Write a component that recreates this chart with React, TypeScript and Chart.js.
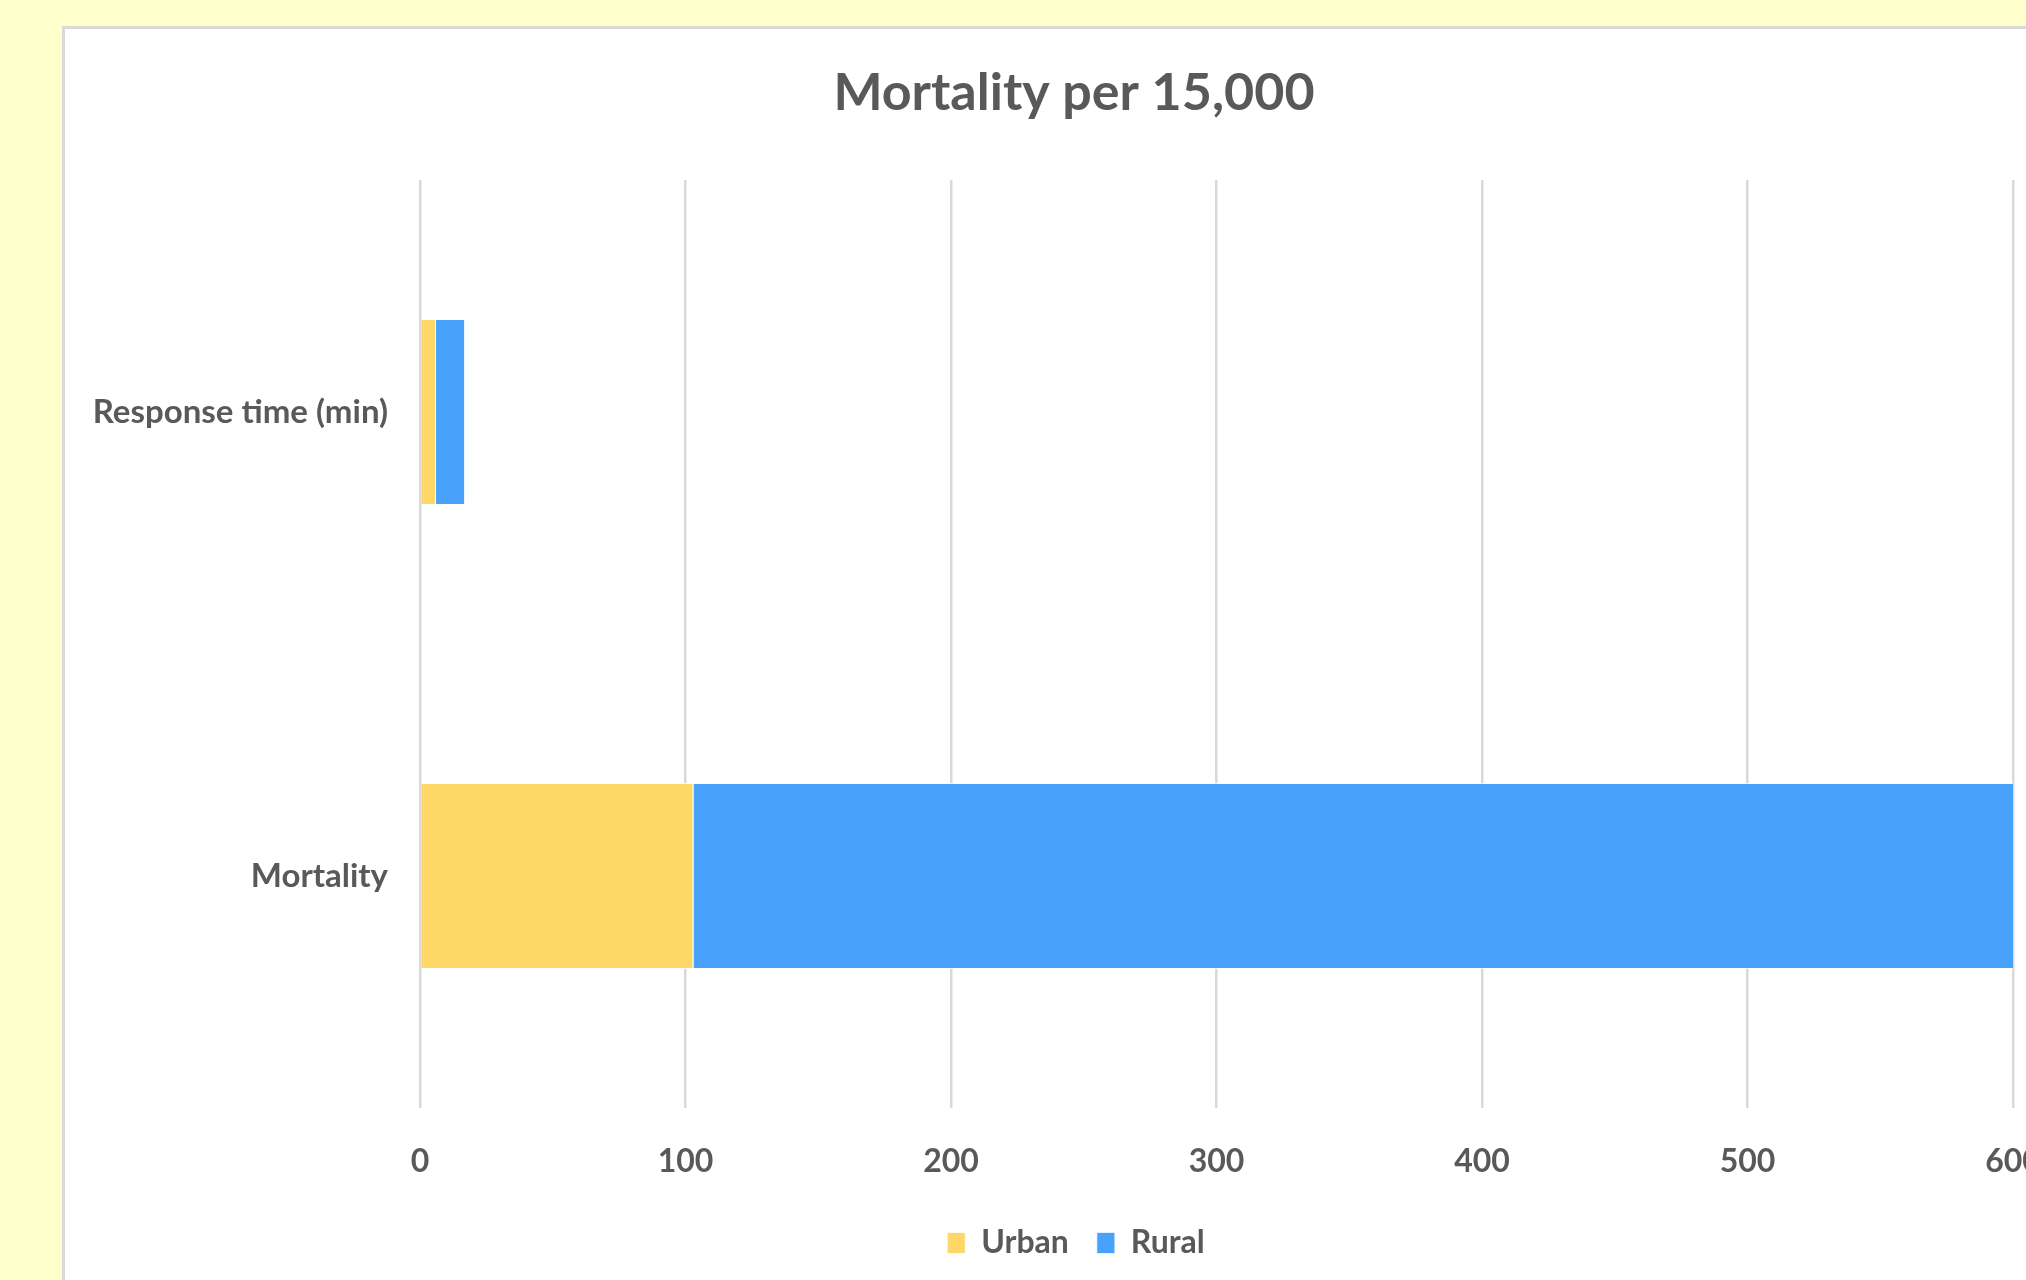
import React, { useEffect, useRef } from "react";
import { Chart, registerables } from "chart.js";

Chart.register(...registerables);

const categories = ["Response time (min)", "Mortality"];
const urbanValues = [6, 103];
const ruralValues = [11, 498];
const seriesNames = ["Urban", "Rural"];
const xTicks = [0, 100, 200, 300, 400, 500, 600];
const chartTitle = "Mortality per 15,000";

const TEXT = "#595959";
const FONT = "Lato, 'Open Sans', sans-serif";

// shifts the title and legend boxes horizontally (the reference centres them on the full panel)
const shiftBoxes = {
  id: "shiftBoxes",
  afterLayout(chart: any) {
    const t = chart.titleBlock;
    if (t) {
      t.left += 35;
      t.right += 35;
    }
    const l = chart.legend;
    if (l) {
      l.left += 37;
      l.right += 37;
    }
  },
};

export default function App() {
  const ref = useRef<HTMLCanvasElement | null>(null);

  useEffect(() => {
    if (!ref.current) return;
    const chart = new Chart(ref.current, {
      type: "bar",
      data: {
        labels: categories,
        datasets: [
          {
            label: seriesNames[0],
            data: urbanValues,
            backgroundColor: "#FDD866",
            borderColor: "rgba(255,255,255,0.7)",
            borderWidth: 1,
            barPercentage: 0.401,
            categoryPercentage: 1,
          },
          {
            label: seriesNames[1],
            data: ruralValues,
            backgroundColor: "#48A2FB",
            borderColor: "rgba(255,255,255,0.7)",
            borderWidth: 1,
            barPercentage: 0.401,
            categoryPercentage: 1,
          },
        ],
      },
      plugins: [shiftBoxes],
      options: {
        indexAxis: "y",
        responsive: false,
        animation: false,
        layout: { padding: { left: 0, right: 52, top: 0, bottom: 20 } },
        plugins: {
          title: {
            display: true,
            text: chartTitle,
            color: TEXT,
            font: { family: FONT, size: 52, weight: "bold" },
            padding: { top: 33, bottom: 55.6 },
          },
          legend: {
            display: true,
            position: "bottom",
            labels: {
              color: TEXT,
              font: { family: FONT, size: 32, weight: "bold" },
              boxWidth: 18,
              boxHeight: 21,
              padding: 28,
            },
          },
          tooltip: { enabled: false },
        },
        scales: {
          x: {
            stacked: true,
            min: 0,
            max: 600,
            afterBuildTicks: (scale: any) => {
              scale.ticks = xTicks.map((v) => ({ value: v }));
            },
            afterFit: (scale: any) => {
              scale.height = 91;
            },
            ticks: {
              color: TEXT,
              font: { family: FONT, size: 32, weight: "bold" },
              padding: 0,
              maxRotation: 0,
            },
            grid: {
              color: "#D9D9D9",
              lineWidth: 2.5,
              drawTicks: true,
              tickLength: 34,
              tickColor: "rgba(0,0,0,0)",
            },
            border: { display: false },
          },
          y: {
            stacked: true,
            afterFit: (scale: any) => {
              scale.width = 355;
            },
            ticks: {
              color: TEXT,
              font: { family: FONT, size: 33, weight: "bold" },
              padding: 32,
            },
            grid: { display: false, drawTicks: false },
            border: { display: false },
          },
        },
      },
    });
    return () => chart.destroy();
  }, []);

  return (
    <div
      style={{
        position: "fixed",
        left: 0,
        top: 0,
        width: 2026,
        height: 1280,
        overflow: "hidden",
        background: "#FFFFCC",
      }}
    >
      <div
        style={{
          position: "absolute",
          left: 62,
          top: 26,
          width: 2000,
          height: 1300,
          background: "#FFFFFF",
          border: "3px solid #D9D9D9",
        }}
      >
        <canvas ref={ref} width={2000} height={1260} style={{ display: "block" }} />
      </div>
    </div>
  );
}
